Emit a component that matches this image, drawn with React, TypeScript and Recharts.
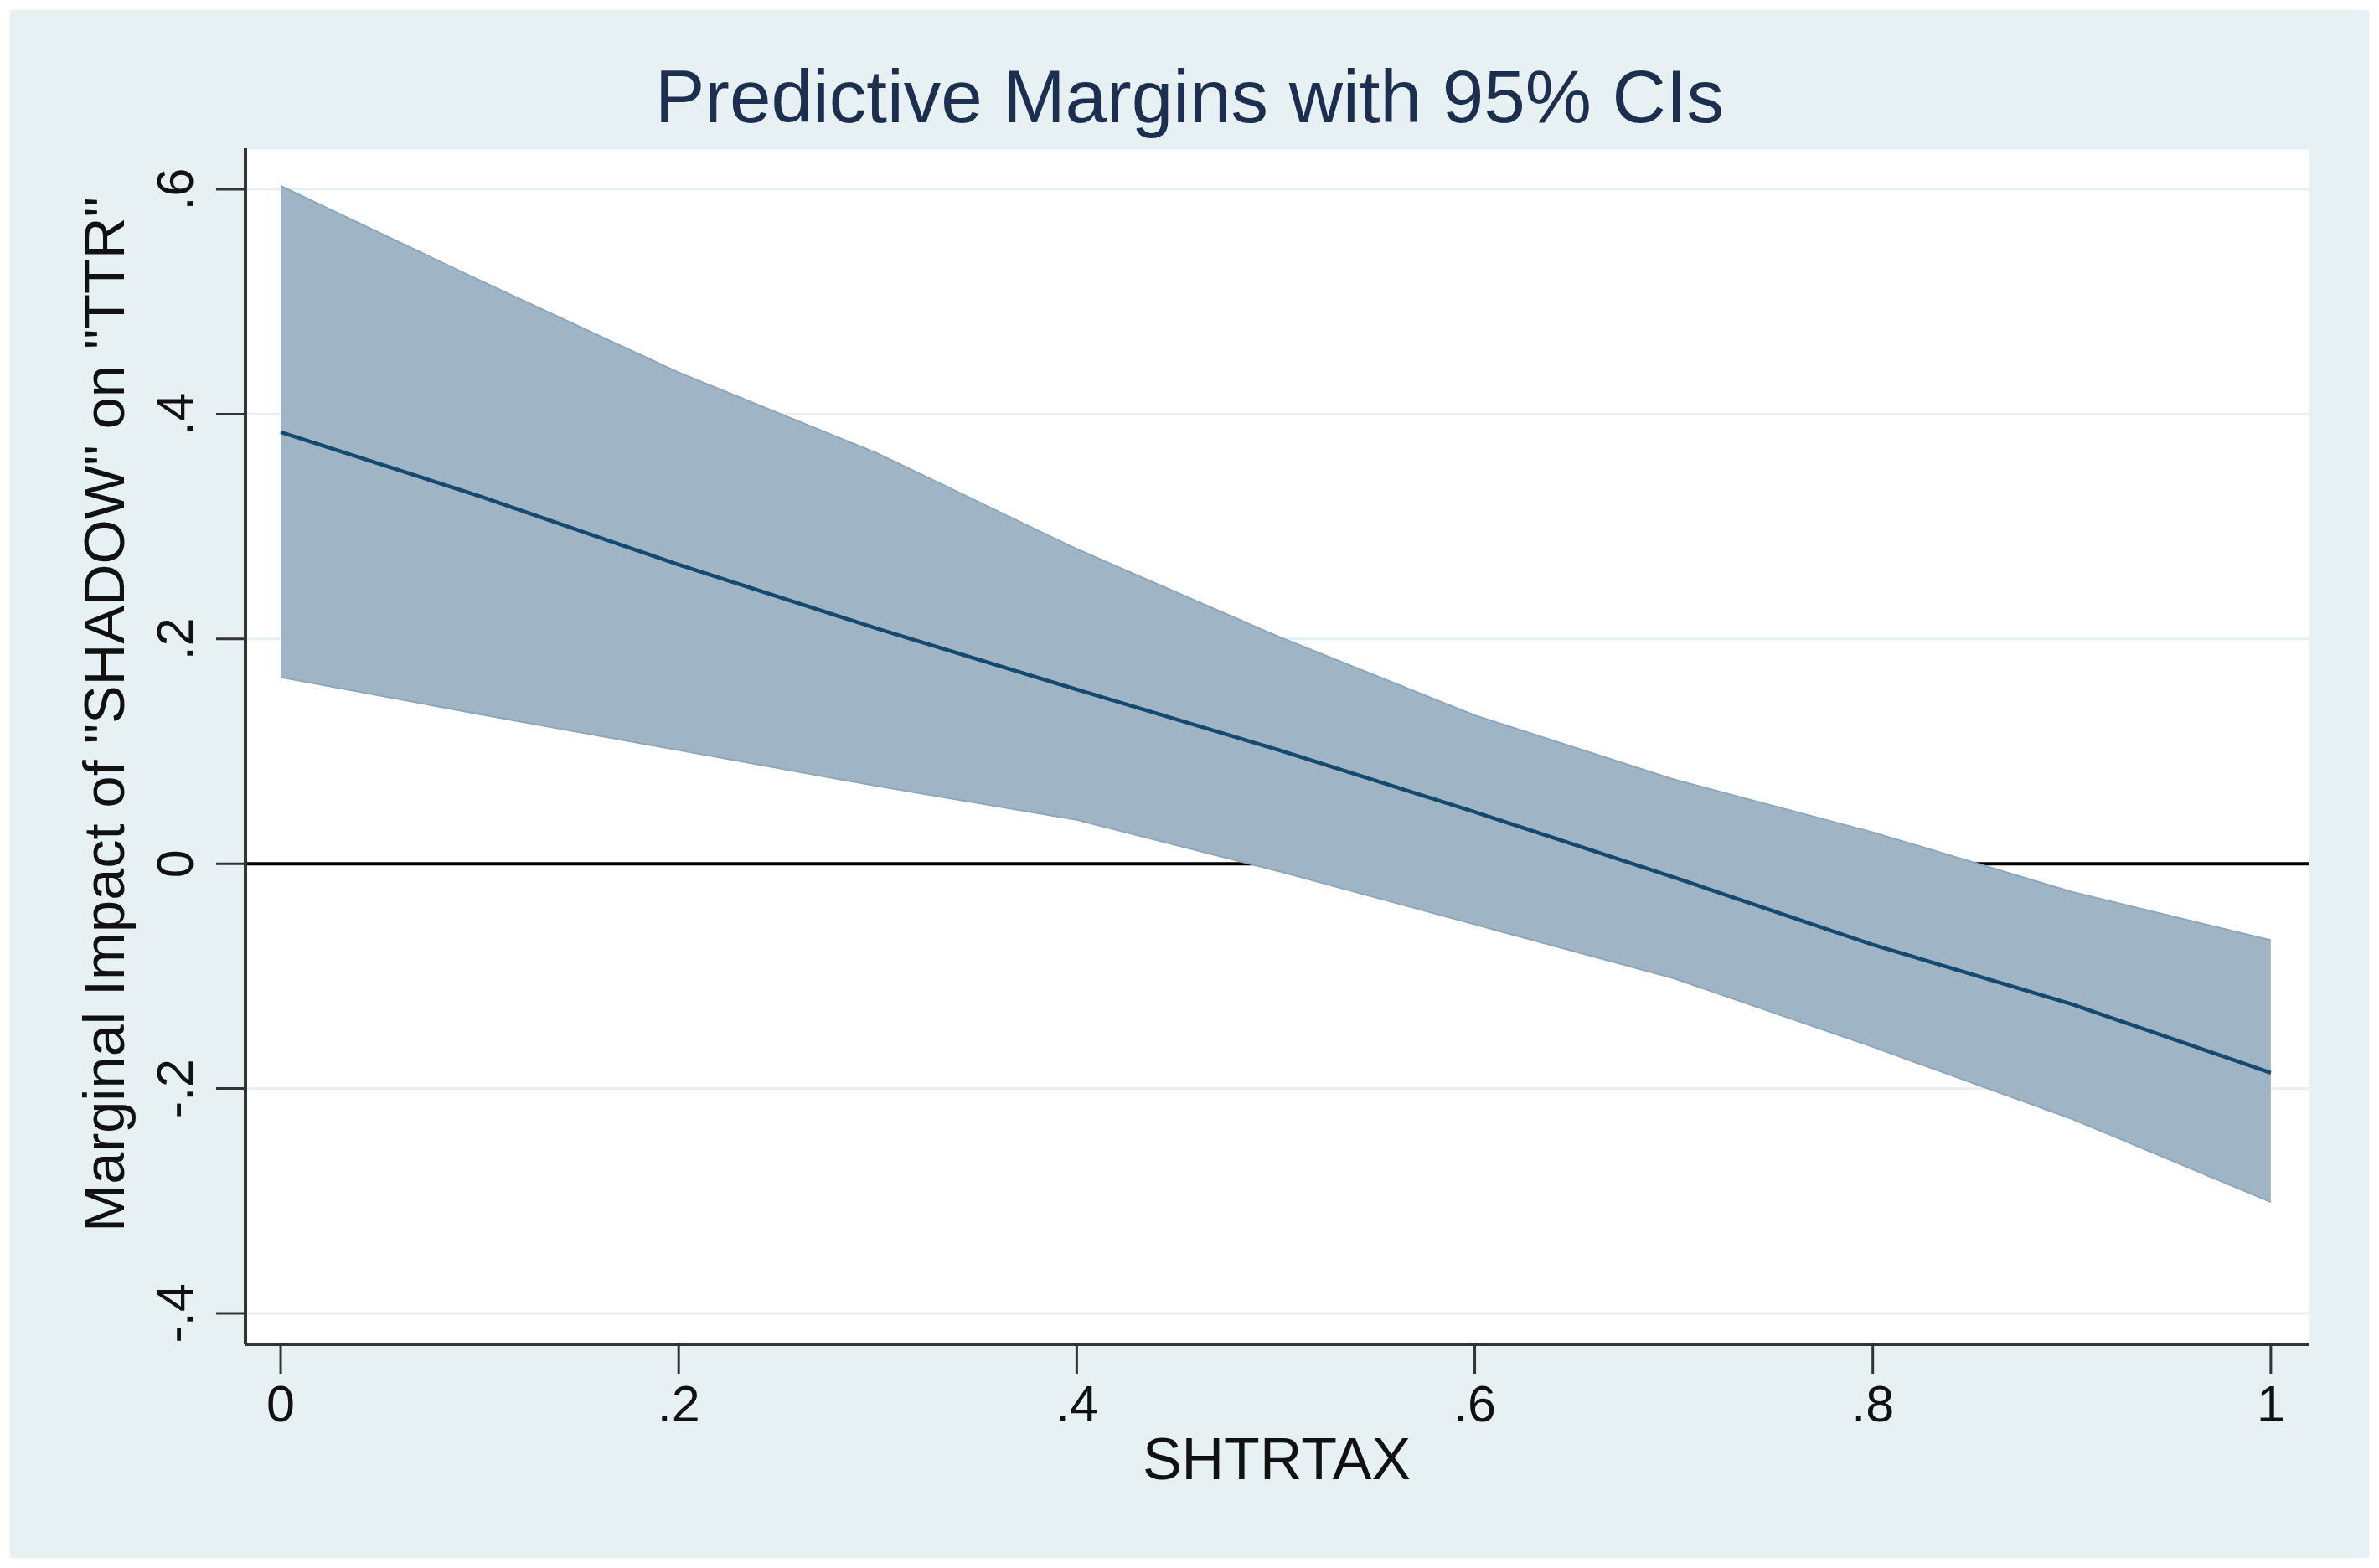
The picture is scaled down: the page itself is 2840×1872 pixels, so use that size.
import React from 'react';
import {
  ComposedChart,
  Area,
  Line,
  XAxis,
  YAxis,
  CartesianGrid,
  ReferenceLine,
} from 'recharts';

// SHTRTAX evaluation points
const xValues = [0, 0.1, 0.2, 0.3, 0.4, 0.5, 0.6, 0.7, 0.8, 0.9, 1];
// Predictive margin (marginal impact of "SHADOW" on "TTR")
const marginValues = [0.384, 0.327, 0.266, 0.209, 0.155, 0.102, 0.046, -0.012, -0.072, -0.125, -0.186];
// 95% CI bounds
const upperCI = [0.603, 0.519, 0.437, 0.365, 0.28, 0.203, 0.132, 0.075, 0.028, -0.025, -0.068];
const lowerCI = [0.166, 0.133, 0.101, 0.069, 0.039, -0.006, -0.054, -0.102, -0.163, -0.227, -0.301];

const xTicks = [0, 0.2, 0.4, 0.6, 0.8, 1];
const yTicks = [-0.4, -0.2, 0, 0.2, 0.4, 0.6];

const titleText = 'Predictive Margins with 95% CIs';
const yLabelText = 'Marginal Impact of "SHADOW" on "TTR"';
const xLabelText = 'SHTRTAX';

const data = xValues.map((x, i) => ({
  x,
  margin: marginValues[i],
  band: [lowerCI[i], upperCI[i]],
}));

const FONT = '"Liberation Sans", Arial, Helvetica, sans-serif';

const fmt = (v: number): string => {
  if (Math.abs(v) < 1e-9) return '0';
  const s = String(Math.abs(+v.toFixed(4)));
  const t = s.startsWith('0.') ? s.slice(1) : s;
  return (v < 0 ? '-' : '') + t;
};

const XTick = (props: any) => {
  const { x, y, payload } = props;
  return (
    <text x={x} y={y} dy={57} textAnchor="middle" fontFamily={FONT} fontSize={61} fill="#111">
      {fmt(payload.value)}
    </text>
  );
};

const YTick = (props: any) => {
  const { x, y, payload } = props;
  return (
    <text
      transform={`translate(${x - 28},${y}) rotate(-90)`}
      textAnchor="middle"
      fontFamily={FONT}
      fontSize={61}
      fill="#111"
    >
      {fmt(payload.value)}
    </text>
  );
};

export default function App() {
  return (
    <div
      style={{
        position: 'absolute',
        left: 0,
        top: 0,
        width: 2840,
        height: 1872,
        background: '#ffffff',
        overflow: 'hidden',
      }}
    >
      <div
        style={{
          position: 'absolute',
          left: 12,
          top: 12,
          width: 2816,
          height: 1848,
          background: '#e7f0f3',
        }}
      />
      <div style={{ position: 'absolute', left: 0, top: 0 }}>
        <ComposedChart
          width={2840}
          height={1872}
          data={data}
          margin={{ top: 177, right: 84, bottom: 147, left: 93 }}
        >
          <CartesianGrid
            horizontal={true}
            vertical={false}
            fill="#ffffff"
            stroke="#e6eff1"
            strokeWidth={3}
          />
          <XAxis
            dataKey="x"
            type="number"
            domain={[-0.0177, 1.019]}
            ticks={xTicks}
            allowDataOverflow
            height={120}
            tickSize={35}
            tickMargin={0}
            tick={<XTick />}
            axisLine={{ stroke: '#333333', strokeWidth: 4 }}
            tickLine={{ stroke: '#333333', strokeWidth: 3 }}
            interval={0}
          />
          <YAxis
            type="number"
            domain={[-0.4276, 0.6365]}
            ticks={yTicks}
            allowDataOverflow
            width={200}
            tickSize={35}
            tickMargin={0}
            tick={<YTick />}
            axisLine={{ stroke: '#333333', strokeWidth: 4 }}
            tickLine={{ stroke: '#333333', strokeWidth: 3 }}
            interval={0}
          />
          <ReferenceLine y={0} stroke="#000000" strokeWidth={4} zIndex={50} />
          <Area
            dataKey="band"
            type="linear"
            fill="#9fb5c6"
            fillOpacity={1}
            stroke="#8ea6b9"
            strokeWidth={2}
            isAnimationActive={false}
            dot={false}
            activeDot={false}
          />
          <Line
            dataKey="margin"
            type="linear"
            stroke="#15496e"
            strokeWidth={4.5}
            dot={false}
            activeDot={false}
            isAnimationActive={false}
          />
        </ComposedChart>
      </div>
      <svg
        width={2840}
        height={1872}
        style={{ position: 'absolute', left: 0, top: 0, pointerEvents: 'none' }}
      >
        <text x={1420} y={146} textAnchor="middle" fontFamily={FONT} fontSize={89} fill="#1d2f4e">
          {titleText}
        </text>
        <text
          transform="translate(148,853) rotate(-90)"
          textAnchor="middle"
          fontFamily={FONT}
          fontSize={68.5}
          fill="#111"
        >
          {yLabelText}
        </text>
        <text x={1524} y={1766} textAnchor="middle" fontFamily={FONT} fontSize={70} fill="#111">
          {xLabelText}
        </text>
      </svg>
    </div>
  );
}
